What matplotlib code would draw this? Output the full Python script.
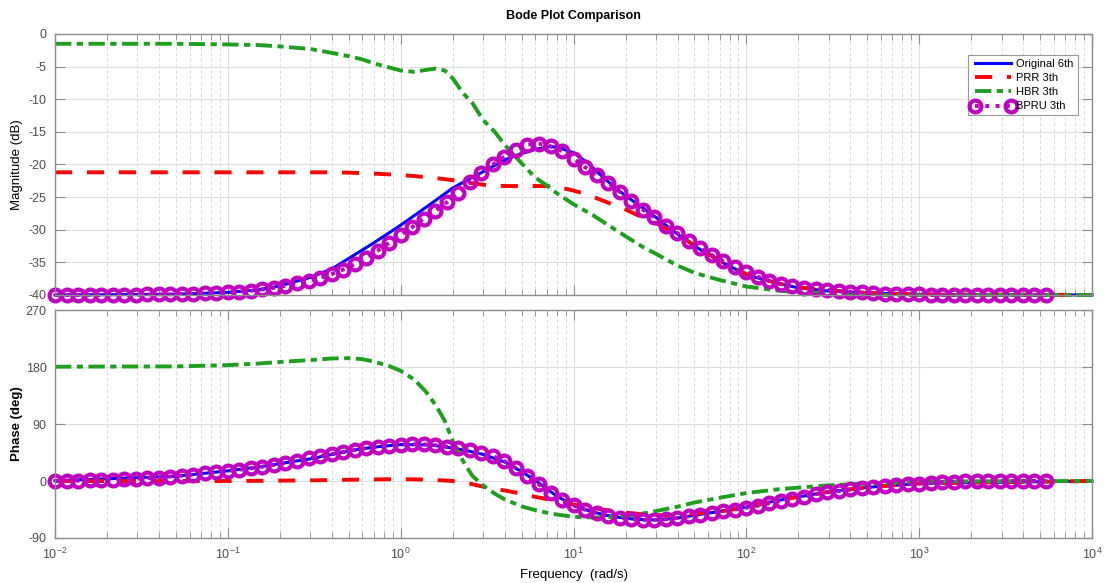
import numpy as np
import matplotlib
matplotlib.use('Agg')
import matplotlib.pyplot as plt
from matplotlib.ticker import FixedLocator, NullFormatter

plt.rcParams['font.family'] = ['Liberation Sans', 'DejaVu Sans']
plt.rcParams['mathtext.fontset'] = 'custom'
plt.rcParams['mathtext.rm'] = 'Liberation Sans'
plt.rcParams['axes.unicode_minus'] = False

labels = ['Original 6th', 'PRR 3th', 'HBR 3th', 'BPRU 3th']
colors = ['#0000ff', '#ff0000', '#1f9e1f', '#bf00bf']

# frequency samples (rad/s) for original / PRR
w_ref = [0.01, 0.05, 0.1, 0.15, 0.2, 0.3, 0.4, 0.5, 0.7, 1, 1.5, 2, 2.5, 3, 4, 5, 6, 7, 8,
         10, 12, 15, 20, 25, 30, 40, 50, 70, 100, 150, 200, 300, 500, 1000, 10000]
orig_mag = [-40, -39.9, -39.6, -39.2, -38.6, -37.3, -36.0, -34.4, -32.0, -29.3, -26.0, -23.6,
            -22.2, -21.1, -19.3, -18.3, -17.7, -17.3, -17.3, -18.2, -19.7, -22.1, -24.8, -26.6,
            -28.1, -30.7, -32.5, -34.8, -36.9, -38.2, -38.9, -39.4, -39.7, -39.9, -40]
orig_phase = [0.5, 7.5, 16, 22, 27.5, 35, 42, 47.5, 53.5, 57.5, 57, 52, 47, 42, 30, 15, 1, -12,
              -24, -38, -46, -53.5, -59, -61, -61.5, -58.5, -54, -48, -41, -31, -25, -17, -10,
              -3.8, 0]
prr_mag = [-21.2, -21.2, -21.2, -21.2, -21.2, -21.2, -21.2, -21.25, -21.4, -21.6, -22.0, -22.4,
           -22.8, -23.1, -23.3, -23.3, -23.3, -23.3, -23.4, -24.0, -24.6, -25.6, -26.9, -28.1,
           -29.0, -30.7, -32.4, -34.7, -36.8, -38.2, -38.8, -39.3, -39.7, -39.9, -40]
prr_phase = [0, 0, 0, 0.3, 0.6, 1, 1.5, 2, 2.5, 3, 2, 0, -4, -9, -15, -20, -25, -28.5, -32,
             -37, -41, -45.5, -50, -52.5, -54, -53.5, -51.5, -48, -42, -31, -25, -17, -10, -3.8, 0]

# HBR
w_hbr = [0.01, 0.05, 0.1, 0.15, 0.2, 0.3, 0.4, 0.5, 0.6, 0.7, 0.85, 1, 1.2, 1.4, 1.6, 1.8, 2,
         2.3, 2.6, 3, 3.5, 4, 5, 6, 7, 8, 10, 13, 17, 20, 25, 30, 40, 50, 70, 100, 150, 200,
         300, 500, 1000, 2000, 10000]
hbr_mag = [-1.5, -1.5, -1.6, -1.7, -1.9, -2.3, -2.9, -3.4, -3.9, -4.5, -5.1, -5.6, -5.8, -5.5,
           -5.3, -5.6, -6.8, -9.1, -10.6, -13.2, -15.0, -17.0, -19.8, -22.0, -23.2, -24.4, -26.1,
           -27.8, -29.8, -31.0, -32.6, -33.7, -35.5, -36.6, -37.7, -38.7, -39.3, -39.6, -39.8,
           -40, -40, -40, -40]
hbr_phase = [180.5, 181, 183, 185.5, 188, 191, 193.5, 194, 192.5, 188.5, 182, 174, 160, 141,
             119, 95, 63, 31, 8, -7, -20, -29, -40, -46, -50, -53, -56.5, -57.7, -57, -55, -51.5,
             -47.5, -40.5, -34, -26.5, -19, -13.3, -10.5, -6.8, -4, -1.5, -0.5, 0]

# BPRU, one value per marker (15 markers per decade)
w_bpru = np.logspace(-2, -2 + 86 / 15, 87)
bpru_mag = [-40, -40, -40, -40, -40, -40, -40, -40, -39.9, -39.9,
            -39.9, -39.85, -39.8, -39.75, -39.7, -39.6, -39.5, -39.35, -39.15, -38.9,
            -38.6, -38.2, -37.8, -37.4, -36.8, -36.1, -35.3, -34.3, -33.2, -32.0,
            -30.8, -29.6, -28.3, -27.1, -25.8, -24.3, -22.7, -21.3, -20.0, -18.8,
            -17.75, -16.95, -16.8, -17.2, -17.95, -19.1, -20.4, -21.6, -22.8, -24.2,
            -25.6, -26.9, -28.1, -29.4, -30.5, -31.7, -32.8, -33.9, -34.8, -35.7,
            -36.5, -37.2, -37.8, -38.3, -38.6, -38.9, -39.1, -39.2, -39.4, -39.5,
            -39.6, -39.7, -39.8, -39.8, -39.9, -39.9, -40, -40, -40, -40,
            -40, -40, -40, -40, -40, -40, -40]
bpru_phase = [0.5, 0.5, 0.5, 1, 1, 2, 2.5, 3.5, 4.5, 5.5,
              7, 8.5, 10, 12, 13.8, 16, 17.8, 20, 22.6, 25.5,
              28.2, 31.5, 35.6, 39.2, 42.3, 45.6, 49, 51.8, 54, 55.9,
              57.4, 58.1, 57.9, 56.6, 54.3, 51.6, 48.8, 45, 39.2, 31.5,
              20, 7.5, -5.5, -19.3, -29.8, -38.6, -45.2, -51, -55.1, -57.8,
              -59.9, -61.3, -61.6, -60.4, -58.6, -56, -53.2, -50.5, -47.6, -45.2,
              -42.2, -38.9, -35.2, -31.3, -27.9, -24.6, -21, -18, -15.9, -13.3,
              -11.3, -9.5, -8, -6.6, -5.4, -4, -2.9, -1.6, -1, -0.5,
              0, 0, 0, 0, 0, 0, 0]

xticks = [1e-2, 1e-1, 1e0, 1e1, 1e2, 1e3, 1e4]
xtick_labels = ['$10^{-2}$', '$10^{-1}$', '$10^{0}$', '$10^{1}$', '$10^{2}$', '$10^{3}$', '$10^{4}$']
minor_xticks = [m * 10.0 ** e for e in range(-2, 4) for m in range(2, 10)]


def draw_curves(ax, orig, prr, hbr, bpru):
    ax.plot(w_ref, orig, color=colors[0], lw=2.2, label=labels[0], clip_on=False)
    ax.plot(w_ref, prr, color=colors[1], lw=2.8, dashes=(4.4, 3.8), label=labels[1], clip_on=False)
    ax.plot(w_hbr, hbr, color=colors[2], lw=2.8, dashes=(4.2, 1.4, 1.6, 1.4), label=labels[2],
            clip_on=False)
    ax.plot(w_bpru, bpru, color=colors[3], lw=2.8, ls=':', marker='o', ms=8.5, mfc='none', mew=3.0,
            label=labels[3], clip_on=False)


def style_axis(ax):
    ax.set_xscale('log')
    ax.set_xlim(1e-2, 1e4)
    ax.xaxis.set_major_locator(FixedLocator(xticks))
    ax.xaxis.set_minor_locator(FixedLocator(minor_xticks))
    ax.xaxis.set_minor_formatter(NullFormatter())
    ax.set_xticklabels(xtick_labels)
    ax.grid(True, which='major', color='#dedede', lw=0.8)
    ax.grid(True, which='minor', axis='x', color='#d4d4d4', lw=0.6, ls=(0, (4, 3)))
    ax.set_axisbelow(True)
    ax.tick_params(which='both', direction='in', top=True, right=True, colors='#8c8c8c',
                   labelcolor='#4d4d4d', labelsize=9, pad=6)
    ax.tick_params(which='major', length=7)
    ax.tick_params(which='minor', length=4)
    for sp in ax.spines.values():
        sp.set_color('#8c8c8c')
        sp.set_linewidth(1.0)


fig = plt.figure(figsize=(11.05, 5.83), dpi=100)
ax1 = fig.add_axes([0.0498, 0.494, 0.9385, 0.4477])
ax2 = fig.add_axes([0.0498, 0.0772, 0.9385, 0.391])

draw_curves(ax1, orig_mag, prr_mag, hbr_mag, bpru_mag)
draw_curves(ax2, orig_phase, prr_phase, hbr_phase, bpru_phase)

style_axis(ax1)
style_axis(ax2)

ax1.set_ylim(-40, 0)
ax1.yaxis.set_major_locator(FixedLocator(range(-40, 1, 5)))
ax1.tick_params(labelbottom=False)
ax2.set_ylim(-90, 270)
ax2.yaxis.set_major_locator(FixedLocator([-90, 0, 90, 180, 270]))

ax1.set_title('Bode Plot Comparison', fontsize=9, fontweight='bold', pad=11)
ax1.set_ylabel('Magnitude (dB)', fontsize=9.5)
ax1.yaxis.set_label_coords(-0.031, 0.5)
ax2.set_ylabel('Phase (deg)', fontsize=9.5, fontweight='bold')
ax2.yaxis.set_label_coords(-0.031, 0.5)
ax2.set_xlabel('Frequency  (rad/s)', fontsize=9.5)
ax2.xaxis.set_label_coords(0.5, -0.135)

leg = ax1.legend(loc='upper right', bbox_to_anchor=(0.986, 0.92), fontsize=8, frameon=True,
                 fancybox=False, edgecolor='#999999', handlelength=3.8, handletextpad=0.2,
                 borderpad=0.35, labelspacing=0.38, framealpha=1, borderaxespad=0, numpoints=2)
leg.get_frame().set_linewidth(0.8)

fig.savefig('out.png', dpi=100)
